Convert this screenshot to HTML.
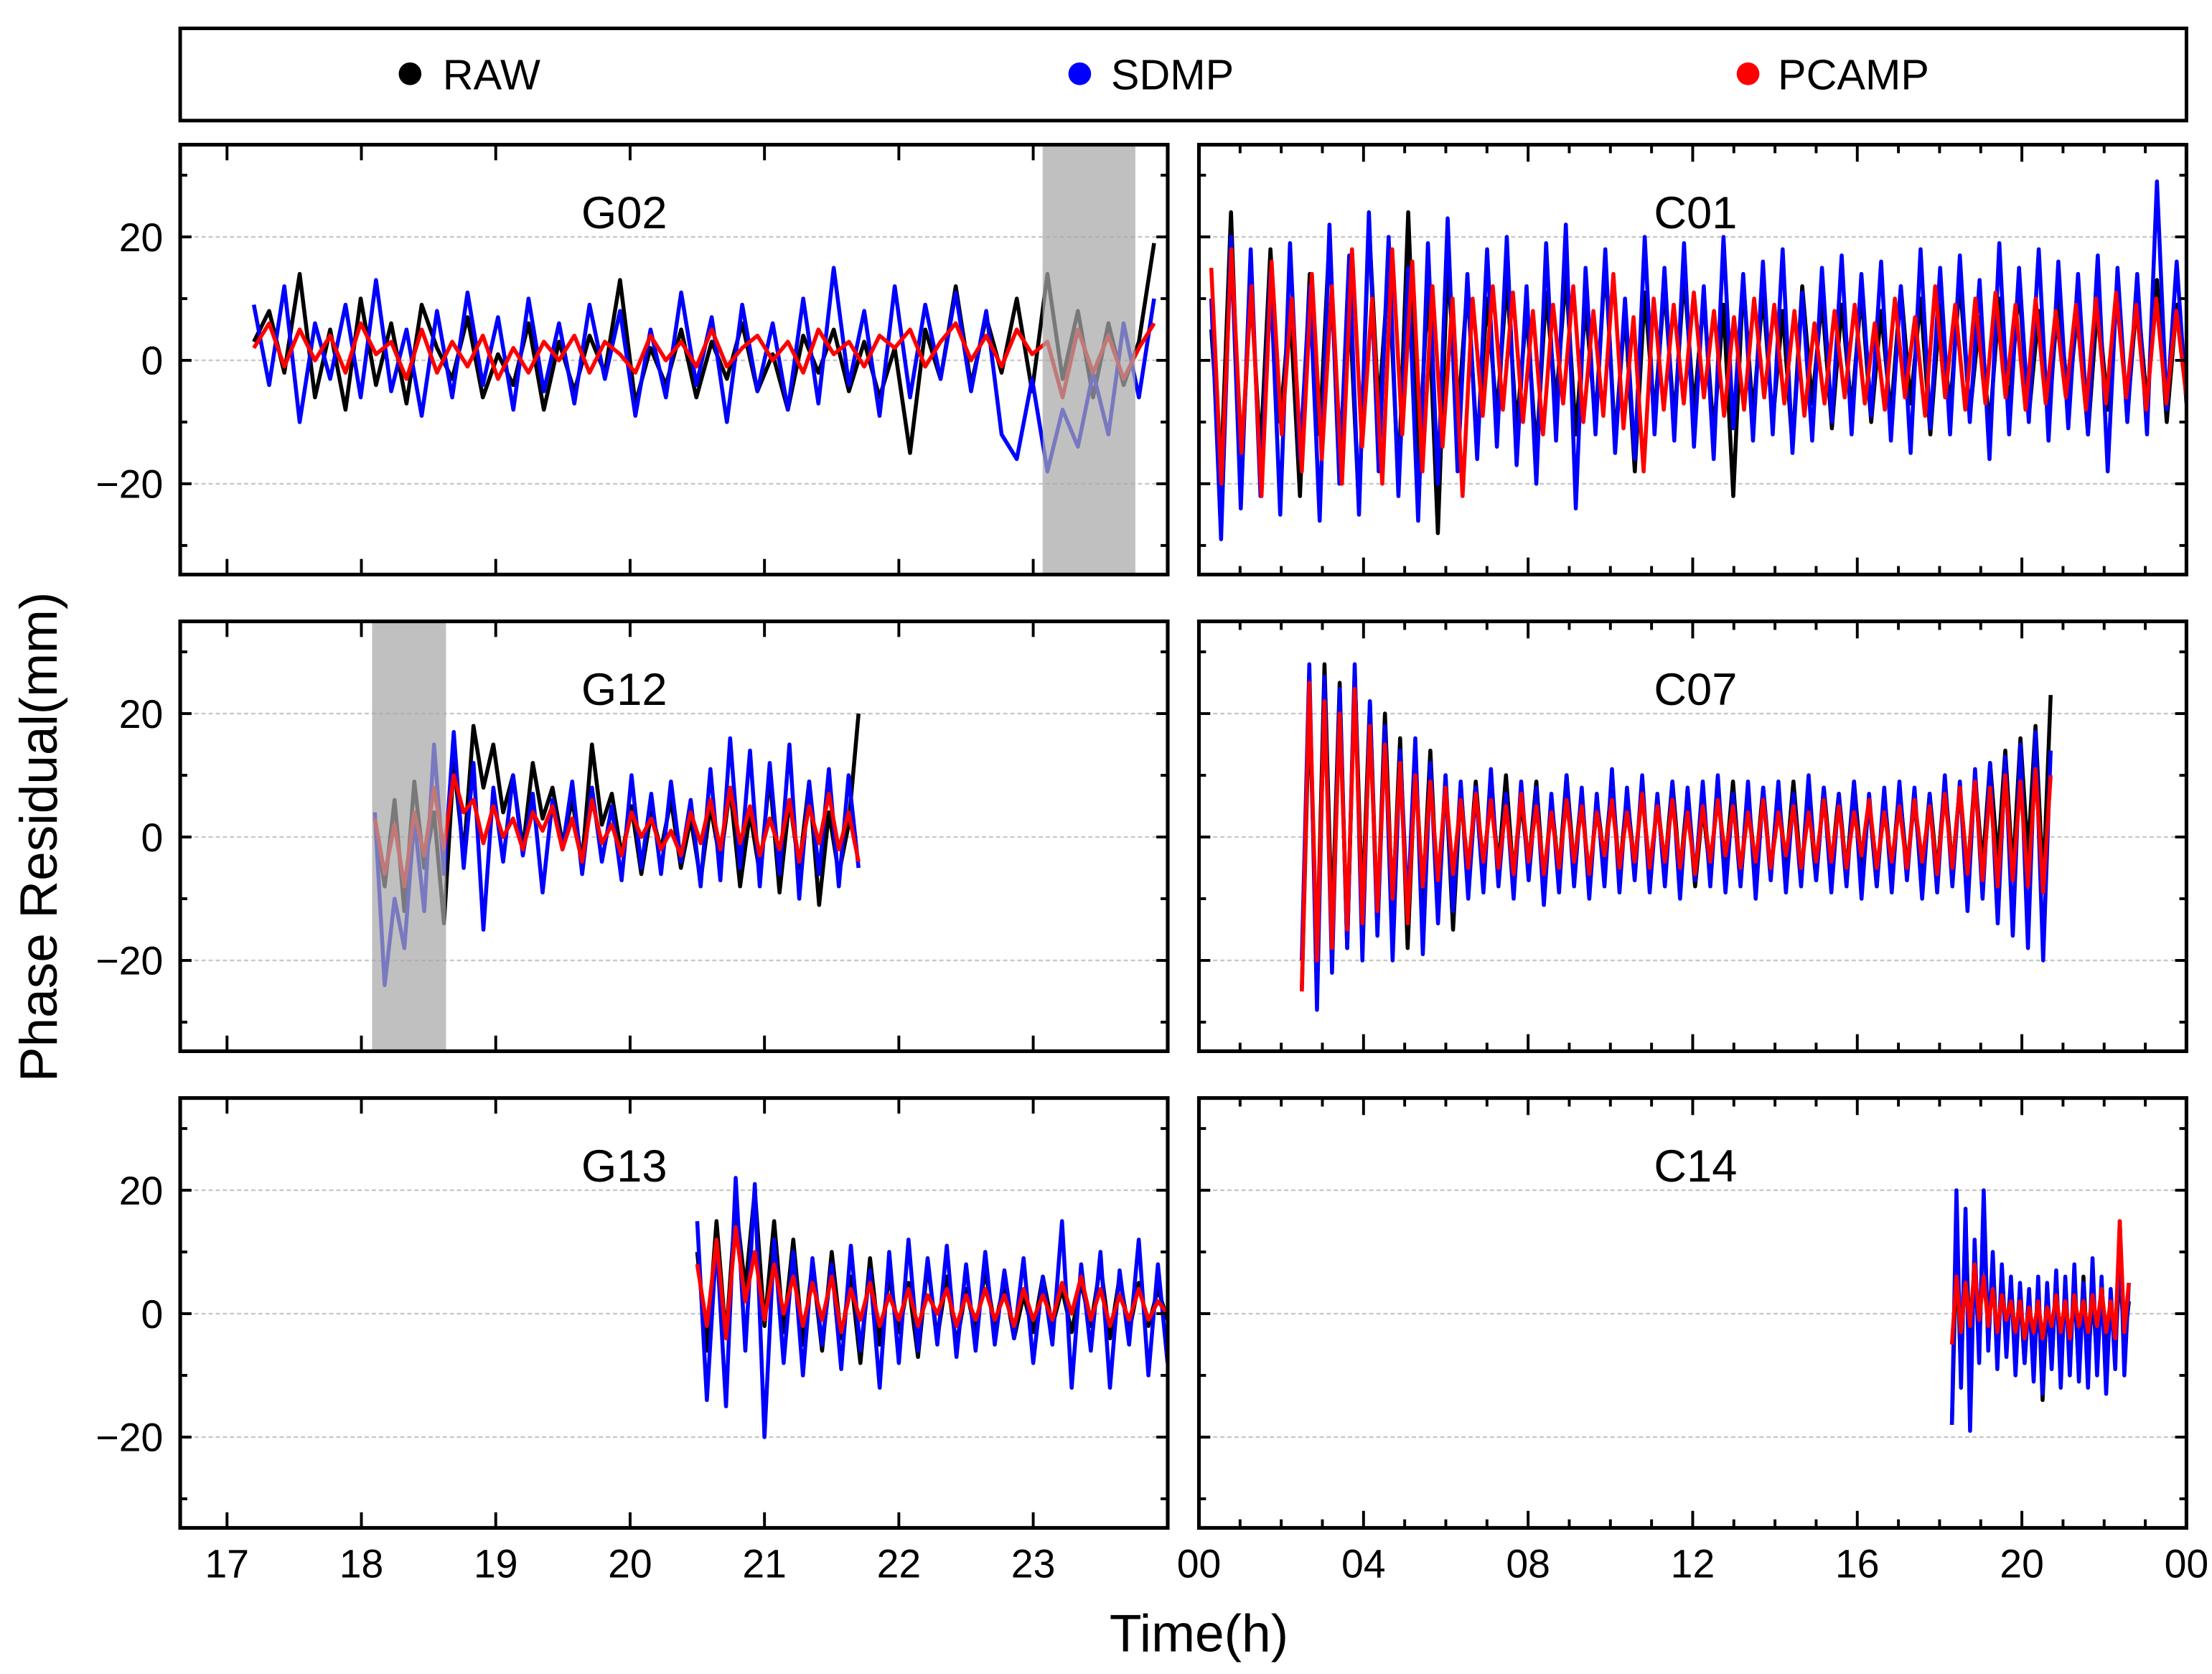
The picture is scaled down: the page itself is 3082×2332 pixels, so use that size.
<!DOCTYPE html>
<html><head><meta charset="utf-8"><style>
html,body{margin:0;padding:0;background:#fff;}
svg{display:block;}
text{font-family:"Liberation Sans",Arial,sans-serif;fill:#000;}
</style></head><body>
<svg id="chart" width="3082" height="2332" viewBox="0 0 1559 1180" preserveAspectRatio="none" xmlns="http://www.w3.org/2000/svg">
<g>
<rect x="127" y="20" width="1414" height="65" fill="#fff" stroke="#000" stroke-width="2.5"/>
<g><circle cx="289" cy="52" r="8" fill="#000"/><text x="312" y="63" font-size="30">RAW</text></g>
<g><circle cx="761" cy="52" r="8" fill="#0000ff"/><text x="783" y="63" font-size="30">SDMP</text></g>
<g><circle cx="1232" cy="52" r="8" fill="#ff0000"/><text x="1253" y="63" font-size="30">PCAMP</text></g>
</g>
<text x="0" y="0" font-size="37" text-anchor="middle" transform="translate(40,590) rotate(-90)">Phase Residual(mm)</text>
<text x="845" y="1164" font-size="37" text-anchor="middle">Time(h)</text>
<g id="panels"></g>
</svg>
<script>
// ---- data ----
const g02Raw=[3,8,-2,14,-6,5,-8,10,-4,6,-7,9,2,-3,7,-6,1,-4,6,-8,3,-5,4,-2,13,-7,2,-4,5,-6,3,-3,6,-5,1,-8,4,-2,5,-5,3,-6,2,-15,5,-3,12,-4,7,-2,10,-5,14,-3,8,-6,6,-4,3,19];
const g02Sdmp=[9,-4,12,-10,6,-3,9,-6,13,-5,5,-9,8,-6,11,-4,7,-8,10,-5,6,-7,9,-3,8,-9,5,-6,11,-4,7,-10,9,-5,6,-8,10,-7,15,-4,8,-9,12,-6,9,-3,11,-5,8,-12,-16,-3,-18,-8,-14,-2,-12,6,-6,10];
const g02Pcamp=[2,6,-1,5,0,4,-2,6,1,3,-3,5,-2,3,-1,4,-3,2,-2,3,0,4,-2,3,1,-2,4,0,3,-1,5,-1,2,4,0,3,-2,5,1,3,-1,4,2,5,-1,3,6,0,4,-1,5,1,3,-6,5,-2,4,-3,2,6];
const c01Raw=[5,-18,24,-20,12,-15,18,-10,9,-22,14,-12,20,-16,10,-24,22,-8,15,-20,24,-18,12,-28,16,-10,12,-14,10,-9,13,-11,8,-15,11,-7,14,-12,9,-10,16,-13,8,-18,11,-9,12,-10,14,-8,10,-12,9,-22,13,-9,11,-10,8,-14,12,-7,10,-11,9,-8,11,-10,8,-9,12,-7,10,-12,9,-8,13,-9,7,-11,10,-8,12,-9,8,-10,11,-7,9,-12,10,-8,12,-9,11,-7,13,-10,9,-6];
const c01Sdmp=[10,-29,20,-24,18,-22,14,-25,19,-16,12,-26,22,-20,17,-25,24,-18,20,-22,15,-26,19,-20,23,-18,14,-16,18,-14,20,-17,12,-20,19,-13,22,-24,15,-12,18,-15,10,-16,20,-12,15,-13,19,-14,12,-16,20,-11,14,-13,16,-12,18,-15,11,-13,15,-10,17,-12,14,-9,16,-13,12,-15,18,-11,15,-12,17,-10,13,-16,19,-12,15,-10,18,-13,16,-11,14,-12,17,-18,15,-10,14,-12,29,-8,16,-7];
const c01Pcamp=[15,-20,18,-15,12,-22,16,-12,10,-18,14,-16,12,-20,18,-14,10,-20,18,-12,16,-18,12,-14,10,-22,10,-9,12,-8,11,-10,8,-12,9,-7,12,-10,8,-9,14,-11,7,-18,10,-8,9,-7,11,-6,8,-9,7,-8,10,-6,9,-7,8,-9,6,-7,8,-6,9,-7,6,-8,10,-6,7,-9,12,-6,9,-8,10,-7,11,-6,9,-8,10,-7,8,-6,9,-8,10,-7,11,-6,9,-8,10,-7,8,-6];
const g12Raw=[3,-8,6,-12,9,-5,4,-14,12,-3,18,8,15,4,10,-2,12,3,8,-1,6,-4,15,2,7,-3,5,-6,4,-2,6,-5,3,-7,5,-4,8,-8,4,-6,10,-9,6,-5,9,-11,4,-6,2,20];
const g12Sdmp=[4,-24,-10,-18,3,-12,15,-6,17,-5,12,-15,8,-4,10,-3,7,-9,6,-2,9,-6,8,-4,5,-7,10,-5,7,-6,9,-4,6,-8,11,-7,16,-5,14,-8,12,-6,15,-10,9,-6,11,-8,10,-5];
const g12Pcamp=[3,-6,2,-8,4,-3,8,-2,10,4,6,-1,5,0,3,-2,4,1,5,-2,3,-4,6,-1,2,-3,4,0,3,-2,1,-3,4,-1,6,-2,8,-1,5,-3,3,-2,6,-4,5,-1,7,-2,4,-4];
const c07Raw=[-25,22,-20,28,-15,25,-18,27,-12,22,-14,20,-12,16,-18,12,-10,14,-12,10,-15,8,-7,9,-6,8,-5,10,-7,6,-5,9,-8,6,-6,10,-5,7,-8,6,-4,9,-6,7,-5,8,-7,6,-5,9,-6,7,-8,5,-6,8,-5,9,-7,6,-5,8,-6,7,-5,9,-6,6,-7,8,-5,7,-6,9,-5,6,-8,7,-6,8,-5,6,-7,7,-6,9,-5,8,-6,10,-5,12,-4,14,-6,16,-3,18,-8,23];
const c07Sdmp=[-20,28,-28,26,-22,24,-18,28,-20,22,-16,18,-20,14,-12,16,-19,12,-14,10,-12,9,-10,8,-9,11,-8,7,-10,9,-7,8,-11,7,-9,10,-8,8,-10,7,-8,11,-9,8,-7,10,-9,7,-8,9,-10,8,-7,9,-8,10,-9,7,-8,9,-10,8,-7,9,-9,7,-8,10,-7,8,-9,7,-8,9,-10,7,-8,8,-9,9,-7,8,-10,7,-9,10,-8,9,-12,11,-10,12,-14,13,-16,15,-18,17,-20,14];
const c07Pcamp=[-25,25,-20,22,-18,20,-15,24,-14,18,-12,15,-10,12,-14,10,-8,9,-7,8,-6,6,-5,7,-4,6,-5,5,-6,7,-4,5,-6,4,-5,6,-4,5,-6,4,-3,6,-5,4,-4,7,-5,5,-4,6,-5,4,-6,5,-4,6,-3,5,-5,4,-4,6,-5,4,-3,5,-5,4,-4,6,-4,5,-5,4,-3,6,-5,4,-4,5,-5,6,-4,5,-6,7,-5,8,-6,9,-7,8,-8,10,-7,9,-8,11,-9,10];
const g13Raw=[10,-6,15,-4,18,4,20,-2,15,-3,12,-5,8,-6,10,-4,6,-8,9,-5,6,-3,5,-7,8,-4,6,-5,4,-3,7,-2,5,-4,3,-3,6,-2,4,-3,5,-2,8,-4,6,-3,5,-2,4,-1];
const g13Sdmp=[15,-14,12,-15,22,-6,21,-20,12,-8,10,-10,9,-5,8,-9,11,-6,7,-12,10,-8,12,-6,9,-5,11,-7,8,-6,10,-5,7,-4,9,-8,6,-5,15,-12,8,-6,10,-12,7,-5,12,-10,8,-8];
const g13Pcamp=[8,-2,12,-4,14,2,10,-1,8,0,6,-2,5,-1,6,-3,4,-1,5,-2,3,-1,4,-2,3,0,4,-2,3,-1,4,-1,3,-2,4,-1,3,-1,5,0,6,-1,4,-2,3,-1,4,-1,2,0];
const c14Raw=[-18,12,-10,15,-8,10,-6,18,-5,9,-7,6,-4,5,-6,4,-8,3,-10,5,-14,3,-8,6,-9,4,-7,5,-10,6,-9,4,-8,5,-7,3,-6,8,-5,2];
const c14Sdmp=[-18,20,-12,17,-19,12,-8,20,-6,10,-9,8,-7,6,-10,5,-8,4,-11,6,-13,5,-9,7,-12,6,-10,8,-11,5,-12,9,-10,6,-13,4,-9,15,-10,5];
const c14Pcamp=[-5,6,-3,5,-2,8,-1,6,-2,4,-3,3,-1,2,-3,2,-4,1,-3,2,-4,1,-2,3,-3,2,-4,3,-2,2,-3,3,-2,4,-3,2,-4,15,-3,5];
const panelNames=["G02","C01","G12","C07","G13","C14"];
const panelSpans=[[17.2,23.9],[0.3,24],[18.1,21.7],[2.5,20.7],[20.5,24],[18.3,22.6]];
const bandSpans=[[23.07,23.76],null,[18.08,18.63],null,null,null];
const leftTicks=["17","18","19","20","21","22","23"];
const rightTicks=["00","04","08","12","16","20","00"];
const yTicks=[20,0,-20];
const seriesSets=[[g02Raw,g02Sdmp,g02Pcamp],[c01Raw,c01Sdmp,c01Pcamp],[g12Raw,g12Sdmp,g12Pcamp],[c07Raw,c07Sdmp,c07Pcamp],[g13Raw,g13Sdmp,g13Pcamp],[c14Raw,c14Sdmp,c14Pcamp]];
const seriesNames=["raw","sdmp","pcamp"];
const seriesColors=["#000000","#0000ff","#ff0000"];

// ---- drawing ----
const NS="http://www.w3.org/2000/svg";
const root=document.getElementById('panels');
function mk(tag,attrs,parent){const e=document.createElementNS(NS,tag);for(const k in attrs)e.setAttribute(k,attrs[k]);(parent||root).appendChild(e);return e;}
const rowTop=[102,438,774], rowH=303;
for(let p=0;p<6;p++){
  const col=p%2,row=Math.floor(p/2);
  const x0=col?845:127,x1=col?1541:823,y0=rowTop[row],y1=y0+rowH;
  const yc=y0+152;
  const xs=col?(h=>845+h*29.0):(h=>160+(h-17)*94.7);
  const ys=v=>yc-v*4.35;
  const g=mk('g',{});
  
  
  mk('rect',{x:x0,y:y0,width:x1-x0,height:rowH,fill:'#fff'},g);
  yTicks.forEach(v=>{
    const l=mk('line',{x1:x0,x2:x1,y1:ys(v),y2:ys(v),stroke:'#c8c8c8','stroke-width':1.2,'stroke-dasharray':'3,2'},g);
    
    
  });
  const cp=mk('clipPath',{id:'cp'+p},g);
  mk('rect',{x:x0,y:y0,width:x1-x0,height:rowH},cp);
  const sg=mk('g',{'clip-path':'url(#cp'+p+')'},g);
  const span=panelSpans[p];
  seriesSets[p].forEach((arr,si)=>{
    const n=arr.length;
    const pts=arr.map((v,i)=>xs(span[0]+(span[1]-span[0])*i/(n-1)).toFixed(1)+','+ys(v).toFixed(1)).join(' ');
    const pl=mk('polyline',{points:pts,fill:'none',stroke:seriesColors[si],'stroke-width':2.8,'stroke-linejoin':'round'},sg);
    
    
  });
  if(bandSpans[p]){
    const b=bandSpans[p];
    const r=mk('rect',{x:xs(b[0]),y:y0,width:xs(b[1])-xs(b[0]),height:rowH,fill:'#a8a8a8','fill-opacity':0.72},sg);
    
    
  }
  const t=mk('text',{x:col?1195:440,y:y0+59,'font-size':32,'text-anchor':'middle'},g);
  t.textContent=panelNames[p];
  
  
  for(let v=-30;v<=30;v+=10){
    const len=(v%20===0)?8:5;
    mk('line',{x1:x0,x2:x0+len,y1:ys(v),y2:ys(v),stroke:'#000','stroke-width':2},g);
    mk('line',{x1:x1,x2:x1-len,y1:ys(v),y2:ys(v),stroke:'#000','stroke-width':2},g);
  }
  if(col===0){
    yTicks.forEach(v=>{
      const tl=mk('text',{x:115,y:ys(v)+10,'font-size':28,'text-anchor':'end'},g);
      tl.textContent=(v<0?'\u2212':'')+Math.abs(v);
      
      
    });
  }
  if(col===0){
    for(let h=17;h<=23;h++){
      mk('line',{x1:xs(h),x2:xs(h),y1:y0,y2:y0+11,stroke:'#000','stroke-width':2},g);
      mk('line',{x1:xs(h),x2:xs(h),y1:y1,y2:y1-11,stroke:'#000','stroke-width':2},g);
    }
  } else {
    for(let h=1;h<24;h++){
      const len=h%4===0?12:6;
      mk('line',{x1:xs(h),x2:xs(h),y1:y0,y2:y0+len,stroke:'#000','stroke-width':2},g);
      mk('line',{x1:xs(h),x2:xs(h),y1:y1,y2:y1-len,stroke:'#000','stroke-width':2},g);
    }
  }
  if(row===2){
    const labels=col?rightTicks:leftTicks;
    labels.forEach((lab,i)=>{
      const h=col?i*4:17+i;
      const tl=mk('text',{x:xs(h),y:1112,'font-size':28,'text-anchor':'middle'},g);
      tl.textContent=lab;
      
      
    });
  }
  mk('rect',{x:x0,y:y0,width:x1-x0,height:rowH,fill:'none',stroke:'#000','stroke-width':2.6},g);
}
</script>
</body></html>
